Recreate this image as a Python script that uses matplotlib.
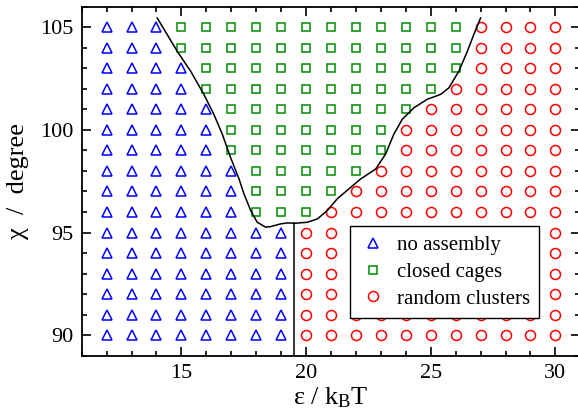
import matplotlib
matplotlib.use("Agg")
import matplotlib.pyplot as plt
import numpy as np

plt.rcParams['font.family'] = ['Liberation Serif', 'DejaVu Serif']
plt.rcParams['mathtext.fontset'] = 'custom'
plt.rcParams['mathtext.rm'] = 'Liberation Serif'
plt.rcParams['mathtext.it'] = 'Liberation Serif:italic'

# grid of simulated state points
eps_values = list(range(12, 31))
chi_rows = [105, 104, 103, 102, 101, 100, 99, 98, 97, 96, 95, 94, 93, 92, 91, 90]
# largest epsilon showing "no assembly" in each row
tri_max = [14, 14, 15, 15, 16, 16, 16, 17, 17, 17, 19, 19, 19, 19, 19, 19]
# largest epsilon showing "closed cages" in each row (equal to tri_max -> none)
sq_max = [26, 26, 26, 25, 24, 23, 23, 22, 21, 20, 19, 19, 19, 19, 19, 19]

# phase boundary line
boundary_x = [14.03, 14.83, 15.37, 15.90, 16.30, 16.64, 16.97, 17.31, 17.51, 17.78,
              18.04, 18.38, 18.58, 18.98, 19.25, 19.55, 20.05, 20.45, 20.85, 21.25,
              21.79, 22.19, 22.79, 23.19, 23.52, 23.86, 24.33, 24.86, 25.40, 25.73,
              26.13, 26.47, 26.73, 27.0]
boundary_y = [105.45, 103.83, 102.86, 101.73, 100.76, 99.79, 98.66, 97.61, 96.88, 96.07,
              95.50, 95.26, 95.29, 95.42, 95.47, 95.45, 95.50, 95.66, 96.07, 96.64,
              97.2, 97.61, 98.09, 98.82, 99.79, 100.52, 101.08, 101.49, 101.73, 102.05,
              102.86, 103.83, 104.65, 105.45]
vline_x = [19.52, 19.52]
vline_y = [89.0, 95.45]

tri_x, tri_y, sq_x, sq_y, ci_x, ci_y = [], [], [], [], [], []
for chi, tmax, smax in zip(chi_rows, tri_max, sq_max):
    for e in eps_values:
        if e <= tmax:
            tri_x.append(e); tri_y.append(chi)
        elif e <= smax:
            sq_x.append(e); sq_y.append(chi)
        else:
            ci_x.append(e); ci_y.append(chi)

W, H = 578, 419
fig = plt.figure(figsize=(W / 100, H / 100), dpi=100)
ax = fig.add_axes([81.7 / W, 63.3 / H, 498.6 / W, 349.0 / H])

blue = '#0000ff'
green = '#008b00'
red = '#ff0000'
mew = 1.1
ax.plot(tri_x, tri_y, ls='none', marker='^', ms=7.5, mfc='none', mec=blue, mew=mew,
        label='no assembly')
ax.plot(sq_x, sq_y, ls='none', marker='s', ms=6.2, mfc='none', mec=green, mew=mew,
        label='closed cages')
ax.plot(ci_x, ci_y, ls='none', marker='o', ms=7.2, mfc='none', mec=red, mew=mew,
        label='random clusters')

ax.plot(boundary_x, boundary_y, color='black', lw=1.1)
ax.plot(vline_x, vline_y, color='black', lw=1.1)

ax.set_xlim(11, 31)
ax.set_ylim(89, 106)
ax.set_xticks([15, 20, 25, 30])
ax.set_yticks([90, 95, 100, 105])
ax.set_xticks(np.arange(11, 32, 1), minor=True)
ax.set_yticks(np.arange(89, 107, 1), minor=True)
ax.tick_params(which='both', direction='in', top=True, right=True, labelsize=16,
               width=1.2)
ax.tick_params(which='major', length=6.5, pad=6)
ax.tick_params(which='minor', length=3.3)
for s in ax.spines.values():
    s.set_linewidth(1.3)

ax.set_xlabel(r'ε / k$_\mathrm{B}$T', fontsize=19, labelpad=2)
ax.set_ylabel('χ  /  degree', fontsize=19, labelpad=8)

leg = ax.legend(loc='upper left', bbox_to_anchor=(0.538, 0.3716), borderaxespad=0,
                fontsize=15, numpoints=1, handlelength=1.3, handletextpad=0.5,
                labelspacing=0.35, borderpad=0.45, fancybox=False, framealpha=1,
                edgecolor='black')
leg.get_frame().set_linewidth(1.0)

fig.savefig('out.png', dpi=100)
